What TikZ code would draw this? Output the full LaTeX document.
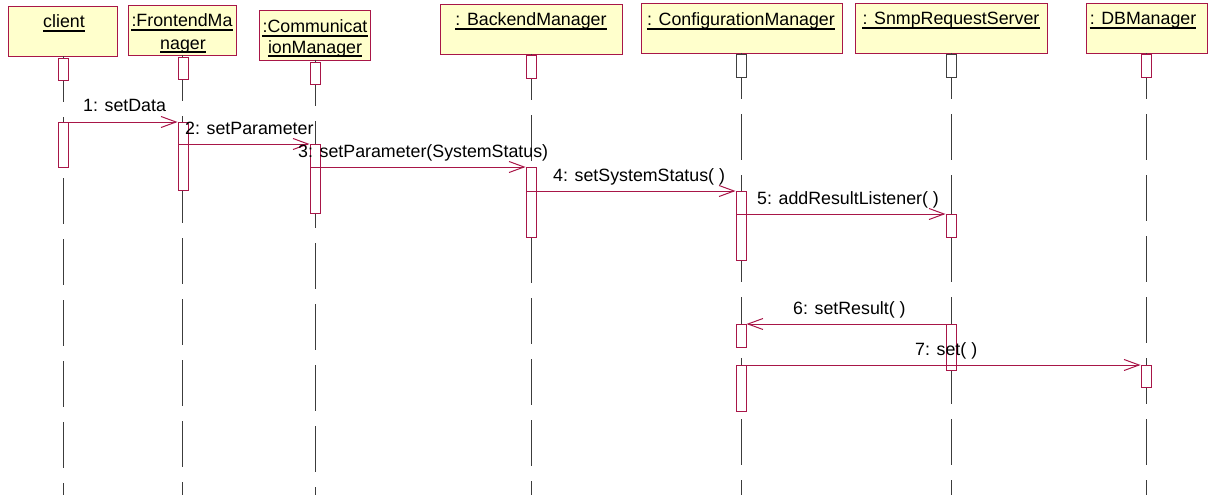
\documentclass[tikz,border=0pt]{standalone}
\usepackage{fontspec}
\setmainfont{Liberation Sans}
\usetikzlibrary{arrows.meta}
\definecolor{umlred}{RGB}{168,22,72}
\definecolor{umlfill}{RGB}{255,255,204}
\definecolor{lifegray}{RGB}{60,60,60}
\begin{document}
\begin{tikzpicture}[x=1pt,y=-1pt,
  every node/.style={font=\fontsize{17.8}{22}\selectfont},
  hdr/.style={draw=umlred,fill=umlfill,line width=1pt,inner sep=0,anchor=north west},
  htext/.style={inner sep=0,anchor=base},
  uline/.style={line width=1.3pt,black},
  life/.style={draw=lifegray,line width=1pt,dash pattern=on 46pt off 15pt},
  stub/.style={draw=umlred,fill=white,line width=1pt,inner sep=0,minimum width=10pt,anchor=north},
  stubk/.style={stub,draw=black!75},
  act/.style={draw=umlred,fill=white,line width=1pt,inner sep=0,minimum width=10pt,anchor=north},
  msg/.style={draw=umlred,line width=1pt,-{Straight Barb[length=15pt,width=11pt,line width=1pt]}},
  mlabel/.style={inner sep=0,anchor=base west}]
\useasboundingbox (0,0) rectangle (1209,495);

% object boxes
\node[hdr,minimum width=109pt,minimum height=50pt] (client) at (8,6) {};
\node[hdr,minimum width=108pt,minimum height=50pt] (front) at (128,5) {};
\node[hdr,minimum width=111pt,minimum height=50pt] (comm) at (259,10) {};
\node[hdr,minimum width=182pt,minimum height=50pt] (back) at (440,4) {};
\node[hdr,minimum width=201pt,minimum height=50pt] (conf) at (641,3) {};
\node[hdr,minimum width=192pt,minimum height=50pt] (snmp) at (855,3) {};
\node[hdr,minimum width=121pt,minimum height=50pt] (db) at (1086,3) {};

% object names, underlined
\node[htext] (tClient) at (64,28) {client};
\node[htext] (tFront1) at (182,27) {:FrontendMa};
\node[htext] (tFront2) at (183,49) {nager};
\node[htext] (tComm1) at (315,33) {:Communicat};
\node[htext] (tComm2) at (315,53) {ionManager};
\node[htext] (tBack) at (531,26) {: BackendManager};
\node[htext] (tConf) at (741,26) {: ConfigurationManager};
\node[htext] (tSnmp) at (951,25) {: SnmpRequestServer};
\node[htext] (tDb) at (1143,25) {: DBManager};
\foreach \t in {tClient,tFront1,tFront2,tComm1,tComm2,tBack,tConf,tSnmp,tDb}
  \draw[uline] ([yshift=-3pt]\t.base west) -- ([yshift=-3pt]\t.base east);

% lifelines
\coordinate (eClient) at (63,495);
\coordinate (eFront) at (182,495);
\coordinate (eComm) at (315,495);
\coordinate (eBack) at (531,495);
\coordinate (eConf) at (741,495);
\coordinate (eSnmp) at (951,495);
\coordinate (eDb) at (1146,495);
\draw[life] (63,56) -- (eClient);
\draw[life] (182,55) -- (eFront);
\draw[life] (315,60) -- (eComm);
\draw[life] (531,54) -- (eBack);
\draw[life] (741,53) -- (eConf);
\draw[life] (951,53) -- (eSnmp);
\draw[life] (1146,53) -- (eDb);

% creation stubs under the object boxes
\node[stub,minimum height=22pt] (sClient) at (63,58) {};
\node[stub,minimum height=22pt] (sFront) at (183,57) {};
\node[stub,minimum height=22pt] (sComm) at (315,62) {};
\node[stub,minimum height=23pt] (sBack) at (531,55) {};
\node[stubk,minimum height=23pt] (sConf) at (741,54) {};
\node[stubk,minimum height=23pt] (sSnmp) at (951,54) {};
\node[stub,minimum height=23pt] (sDb) at (1146,54) {};

% activations
\node[act,minimum height=45pt] (aClient) at (63,122) {};
\node[act,minimum height=22pt] (aFront1) at (183,122) {};
\node[act,minimum height=46pt] (aFront2) at (183,144) {};
\node[act,minimum height=23pt] (aComm1) at (315,144) {};
\node[act,minimum height=46pt] (aComm2) at (315,167) {};
\node[act,minimum height=24pt] (aBack1) at (531,167) {};
\node[act,minimum height=46pt] (aBack2) at (531,191) {};
\node[act,minimum height=23pt] (aConf1) at (741,191) {};
\node[act,minimum height=46pt] (aConf2) at (741,214) {};
\node[act,minimum height=23pt] (aConf3) at (741,324) {};
\node[act,minimum height=46pt] (aConf4) at (741,365) {};
\node[act,minimum height=23pt] (aSnmp1) at (951,214) {};
\node[act,minimum height=46pt] (aSnmp2) at (951,324) {};
\node[act,minimum height=22pt] (aDb) at (1146,365) {};

% messages
\draw[msg] (aClient.north east) -- (aFront1.north west);
\draw[msg] (aFront2.north east) -- (aComm1.north west);
\draw[msg] (aComm2.north east) -- (aBack1.north west);
\draw[msg] (aBack2.north east) -- (aConf1.north west);
\draw[msg] (aConf2.north east) -- (aSnmp1.north west);
\draw[msg] (aSnmp2.north west) -- (aConf3.north east);
\draw[msg] (aConf4.north east) -- (aDb.north west);

\node[mlabel] (m1) at (83,111) {1: setData};
\node[mlabel] (m2) at (185,134) {2: setParameter};
\node[mlabel] (m3) at (298,157) {3: setParameter(SystemStatus)};
\node[mlabel] (m4) at (553,181) {4: setSystemStatus( )};
\node[mlabel] (m5) at (757,204) {5: addResultListener( )};
\node[mlabel] (m6) at (793,314) {6: setResult( )};
\node[mlabel] (m7) at (915,355) {7: set( )};
\end{tikzpicture}
\end{document}
